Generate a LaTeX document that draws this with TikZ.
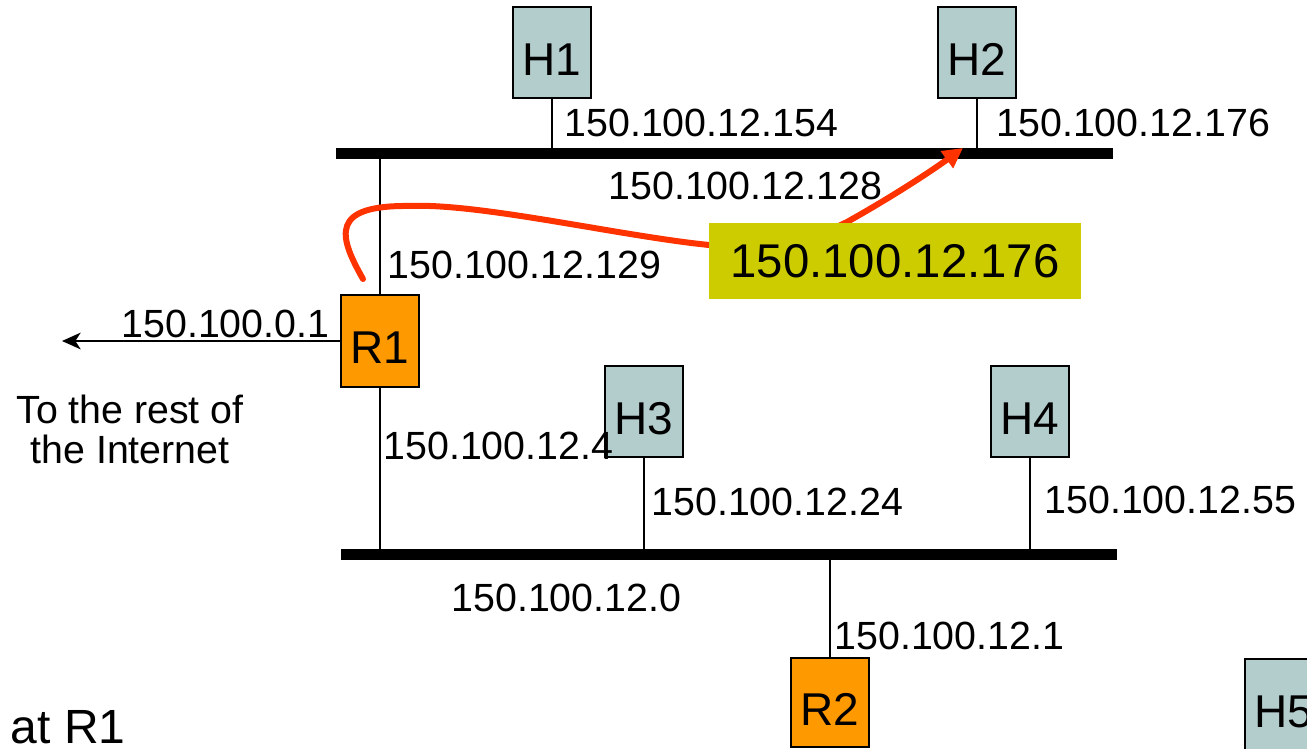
\documentclass[tikz,border=0pt]{standalone}
\usepackage{fontspec}
\setmainfont{Liberation Sans}
\usetikzlibrary{arrows.meta}

\definecolor{hostgray}{RGB}{179,204,204}
\definecolor{routerorange}{RGB}{255,153,0}
\definecolor{pktyellow}{RGB}{204,204,0}
\definecolor{pktred}{RGB}{255,51,0}

\tikzset{every picture/.style={line width=0.75pt}}
\tikzset{
  host/.style={draw, line width=1.5pt, fill=hostgray, inner sep=0pt,
    minimum width=58.5pt, minimum height=68.25pt,
    font=\fontsize{34.5}{40}\selectfont, text height=34pt, text depth=0pt},
  router/.style={host, fill=routerorange},
  addr/.style={anchor=base west, inner sep=0pt, font=\fontsize{29.5}{30}\selectfont},
  bus/.style={line width=8.25pt},
  link/.style={line width=1.5pt},
}

\begin{document}
\begin{tikzpicture}[x=0.75pt,y=0.75pt,yscale=-1,xscale=1]
\useasboundingbox (0,0) rectangle (1307,749);
\clip (0,0) rectangle (1307,749);

% Buses
\coordinate (topL) at (336,153);
\coordinate (topR) at (1113,153);
\coordinate (botL) at (341,554);
\coordinate (botR) at (1117,554);
\draw [bus] (topL) -- (topR);
\draw [bus] (botL) -- (botR);

% Hosts and routers
\node [host] (h1) at (552,52.5) {H1};
\node [host] (h2) at (977,53) {H2};
\node [host] (h3) at (643.5,411.5) {H3};
\node [host] (h4) at (1030,411.5) {H4};
\node [host] (h5) at (1284,704.5) {H5};
\node [router, minimum height=69pt] (r1) at (380,341) {R1};
\node [router, minimum height=66.75pt] (r2) at (830,702.5) {R2};

% Connection
\draw [link] (h1.south) -- (h1.south |- topL);
\draw [link] (h2.south) -- (h2.south |- topL);
\draw [link] (h3.south) -- (h3.south |- botL);
\draw [link] (h4.south) -- (h4.south |- botL);
\draw [link] (r1.north) -- (r1.north |- topL);
\draw [link] (r1.south) -- (r1.south |- botL);
\draw [link] (r2.north) -- (r2.north |- botL);
% Connection
\coordinate (inet) at (62,341);
\draw [link, -{Stealth[length=14pt,width=12.5pt,inset=4pt]}] (r1.west) -- (inet);

% Packet path
\coordinate (pktA) at (363,279);
\coordinate (pktB) at (963,148);
\draw [pktred, line width=4.5pt, line cap=round, -{Triangle[length=15pt,width=15pt]}]
  (pktA) .. controls (338,235) and (330,205) .. (410,206)
  .. controls (480,203) and (620,236) .. (709,245)
  .. controls (780,252) and (810,240) .. (847,222)
  .. controls (890,198) and (930,172) .. (pktB);
\node [fill=pktyellow, inner sep=0pt, minimum width=279pt, minimum height=57pt,
  font=\fontsize{35.5}{40}\selectfont, text height=25.4pt, text depth=0pt]
  (dst) at (895,261) {150.100.12.176};

% Text Node
\node [addr] (a154) at (564,137) {150.100.12.154};
\node [addr] (a176) at (996,137) {150.100.12.176};
\node [addr] (a128) at (608,199) {150.100.12.128};
\node [addr] (a129) at (387,278) {150.100.12.129};
\node [addr] (a01) at (121,337) {150.100.0.1};
\node [addr] (a4) at (383,459) {150.100.12.4};
\node [addr] (a24) at (651,515) {150.100.12.24};
\node [addr] (a55) at (1044,513) {150.100.12.55};
\node [addr] (a0) at (451,611) {150.100.12.0};
\node [addr] (a1) at (834,649) {150.100.12.1};
% Text Node
\node [inner sep=0pt, align=center, font=\fontsize{29.5}{30}\selectfont]
  (rest) at (130,429) {To the rest of\\the Internet};
\node [anchor=base east, inner sep=0pt, font=\fontsize{36}{40}\selectfont]
  (atr1) at (126,743) {at R1};

\end{tikzpicture}
\end{document}
